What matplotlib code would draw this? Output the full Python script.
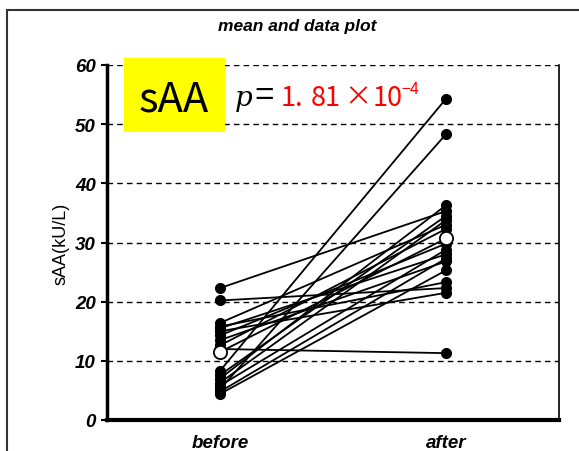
import numpy as np
import matplotlib.pyplot as plt
from matplotlib.patches import Rectangle

# paired data, before -> after
before = [22.3, 20.2, 16.4, 15.8, 15.5, 15.0, 14.3, 13.5, 12.6, 12.0,
          8.3, 7.6, 7.0, 6.3, 5.8, 5.2, 4.8, 4.4]
after = [35.3, 22.3, 33.0, 23.3, 28.0, 21.5, 29.8, 26.8, 32.3, 11.3,
         54.3, 34.5, 36.3, 33.8, 28.8, 48.3, 27.3, 25.3]
groups = ['before', 'after']
yticks = [0, 10, 20, 30, 40, 50, 60]

W, H = 579, 452
fig = plt.figure(figsize=(W/100, H/100), dpi=100)
ax = fig.add_axes([107/W, 1-421/H, 452/W, 355/H])

xs = [1, 2]
for b, a in zip(before, after):
    ax.plot(xs, [b, a], '-o', color='black', lw=1.3, ms=7, zorder=3)
mb, ma = np.mean(before), np.mean(after)
ax.plot(xs, [mb, ma], '-', color='black', lw=1.3, zorder=3)
ax.plot(xs, [mb, ma], 'o', mfc='white', mec='black', mew=1.3, ms=9.5, zorder=4)

ax.set_xlim(0.5, 2.5)
ax.set_ylim(0, 60)
ax.set_yticks(yticks)
ax.set_yticklabels([str(t) for t in yticks], fontsize=13.5, fontweight='bold',
                   fontstyle='italic', family='Liberation Sans')
ax.set_xticks(xs)
ax.set_xticklabels(groups, fontsize=13.5, fontweight='bold', fontstyle='italic',
                   family='Liberation Sans')
ax.tick_params(axis='x', length=0, pad=10)
ax.tick_params(axis='y', length=4, width=1.5, direction='out', pad=4)
for y in yticks[1:]:
    ax.axhline(y, color='black', lw=1, ls=(0, (4, 3)), zorder=1)
ax.spines['top'].set_visible(False)
ax.spines['right'].set_linewidth(1.2)
ax.spines['left'].set_linewidth(2.5)
ax.spines['bottom'].set_linewidth(3)
ax.set_ylabel('sAA(kU/L)', fontsize=13, family='Liberation Sans', labelpad=4)

# outer frame
fig.patches.append(Rectangle((7/W, -0.1), 1.2, 1-11/H+0.1, transform=fig.transFigure,
                             fill=False, ec='#333333', lw=1.5))

fig.text(297/W, 1-27/H, 'mean and data plot', ha='center', va='center', fontsize=12.5,
         fontweight='bold', fontstyle='italic', family='Liberation Sans')

# label box
fig.patches.append(Rectangle((124/W, 1-133/H), 101/W, 74/H, transform=fig.transFigure,
                             fc='#FFFF00', ec='none', zorder=5))
fig.text(174/W, 1-100/H, 'sAA', ha='center', va='center', fontsize=30,
         family='Noto Sans CJK JP', zorder=6)
fig.text(235/W, 1-99/H, 'p', ha='left', va='center', fontsize=20,
         fontstyle='italic', family='DejaVu Serif', zorder=6)
fig.text(254/W, 1-97/H, '=', ha='left', va='center', fontsize=24,
         family='Liberation Sans', zorder=6)
red = dict(ha='left', va='center', fontsize=19.5, color='#FF0000',
           family='Noto Sans CJK JP', zorder=6)
fig.text(281/W, 1-98/H, '1.', **red)
fig.text(311/W, 1-98/H, '81', **red)
fig.text(344/W, 1-98/H, '×', **red)
fig.text(373/W, 1-98/H, '10', **red)
fig.text(401/W, 1-90/H, '−4', ha='left', va='center', fontsize=11.5,
         color='#FF0000', family='Noto Sans CJK JP', zorder=6)

fig.savefig('out.png', dpi=100)
